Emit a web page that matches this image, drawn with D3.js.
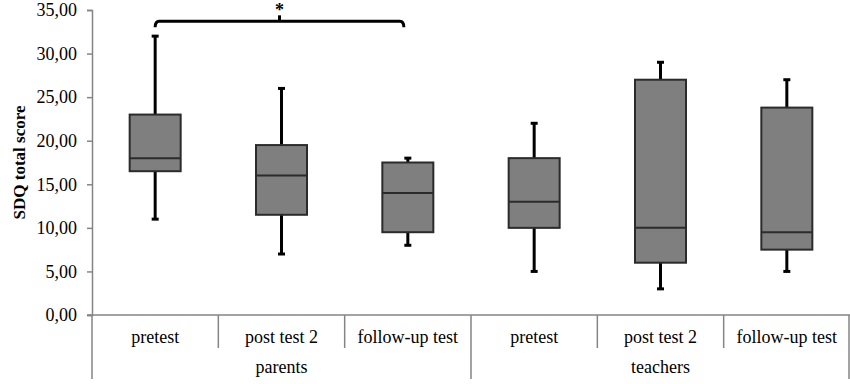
<!DOCTYPE html>
<html>
<head>
<meta charset="utf-8">
<script src="https://d3js.org/d3.v7.min.js"></script>
<style>
    body { margin: 0; background: #fff; }
    text { font-family: "Liberation Serif", "Times New Roman", serif; fill: #000; }
</style>
</head>
<body>
<div id="chart"></div>
<script>
    // data
    var groups = ["parents", "teachers"];
    var tests = ["pretest", "post test 2", "follow-up test"];
    var whiskerLow = [11, 7, 8, 5, 3, 5];
    var q1 = [16.5, 11.5, 9.5, 10, 6, 7.5];
    var median = [18, 16, 14, 13, 10, 9.5];
    var q3 = [23, 19.5, 17.5, 18, 27, 23.8];
    var whiskerHigh = [32, 26, 18, 22, 29, 27];
    var yTicks = [0, 5, 10, 15, 20, 25, 30, 35];
    var sigPair = [0, 2], sigLevel = 33.7, sigLabel = "*";

    var width = 850, height = 384;
    var margin = { top: 10, right: 0, bottom: 69, left: 92 };

    var svg = d3.select("#chart").append("svg")
        .attr("width", width)
        .attr("height", height);

    var keys = [];
    groups.forEach(function (g) { tests.forEach(function (t) { keys.push(g + "|" + t); }); });

    var x = d3.scaleBand().domain(keys).range([margin.left, width - margin.right]);
    var gx = d3.scaleBand().domain(groups).range([margin.left, width - margin.right]);
    var y = d3.scaleLinear().domain([0, 35]).range([height - margin.bottom, margin.top]);

    var axisColor = "#858585";
    var y0 = y(0);

    // y axis
    var yAxis = svg.append("g")
        .attr("transform", "translate(" + margin.left + ",0)")
        .call(d3.axisLeft(y).tickValues(yTicks).tickSize(5).tickPadding(10)
            .tickFormat(function (d) { return d3.format(".2f")(d).replace(".", ","); }));
    yAxis.attr("font-family", "Liberation Serif").attr("font-size", 18);
    yAxis.select(".domain").attr("stroke", axisColor).attr("stroke-width", 1.5);
    yAxis.selectAll(".tick line").attr("stroke", axisColor).attr("stroke-width", 1.5);
    yAxis.selectAll(".tick text").style("font-size", "18px").attr("fill", "#000");

    svg.append("text")
        .attr("transform", "translate(25," + y(17.5) + ") rotate(-90)")
        .attr("text-anchor", "middle")
        .style("font-size", "17px")
        .style("font-weight", "bold")
        .text("SDQ total score");

    // x axis: baseline and category dividers
    svg.append("line")
        .attr("x1", margin.left - 5).attr("x2", width)
        .attr("y1", y0).attr("y2", y0)
        .attr("stroke", axisColor).attr("stroke-width", 1.5);

    keys.forEach(function (k, i) {
        var xl = x(k);
        var outer = (i % tests.length === 0);
        svg.append("line")
            .attr("x1", xl).attr("x2", xl)
            .attr("y1", y0).attr("y2", outer ? y0 + 64 : y0 + 33)
            .attr("stroke", axisColor).attr("stroke-width", 1.5);
        svg.append("text")
            .attr("x", xl + x.bandwidth() / 2)
            .attr("y", y0 + 28)
            .attr("text-anchor", "middle")
            .style("font-size", "18px")
            .text(k.split("|")[1]);
    });
    svg.append("line")
        .attr("x1", width - 1).attr("x2", width - 1)
        .attr("y1", y0).attr("y2", y0 + 64)
        .attr("stroke", axisColor).attr("stroke-width", 1.5);

    groups.forEach(function (g) {
        svg.append("text")
            .attr("x", gx(g) + gx.bandwidth() / 2)
            .attr("y", y0 + 58)
            .attr("text-anchor", "middle")
            .style("font-size", "18px")
            .text(g);
    });

    // boxes
    var boxW = 51, capW = 5;
    keys.forEach(function (k, i) {
        var cx = x(k) + x.bandwidth() / 2;
        var g = svg.append("g");
        // whiskers
        g.append("line")
            .attr("x1", cx).attr("x2", cx)
            .attr("y1", y(whiskerHigh[i])).attr("y2", y(q3[i]))
            .attr("stroke", "#000").attr("stroke-width", 3);
        g.append("line")
            .attr("x1", cx).attr("x2", cx)
            .attr("y1", y(q1[i])).attr("y2", y(whiskerLow[i]))
            .attr("stroke", "#000").attr("stroke-width", 3);
        [whiskerHigh[i], whiskerLow[i]].forEach(function (v) {
            g.append("line")
                .attr("x1", cx - capW / 2 - 1).attr("x2", cx + capW / 2 + 1)
                .attr("y1", y(v)).attr("y2", y(v))
                .attr("stroke", "#000").attr("stroke-width", 3);
        });
        g.append("rect")
            .attr("x", cx - boxW / 2)
            .attr("y", y(q3[i]))
            .attr("width", boxW)
            .attr("height", y(q1[i]) - y(q3[i]))
            .attr("fill", "#7f7f7f")
            .attr("stroke", "#2b2b2b")
            .attr("stroke-width", 2);
        g.append("line")
            .attr("x1", cx - boxW / 2).attr("x2", cx + boxW / 2)
            .attr("y1", y(median[i])).attr("y2", y(median[i]))
            .attr("stroke", "#2b2b2b").attr("stroke-width", 2);
    });

    // significance bracket
    var bx1 = x(keys[sigPair[0]]) + x.bandwidth() / 2;
    var bx2 = x(keys[sigPair[1]]) + x.bandwidth() / 2 - 4;
    var by = y(sigLevel);
    svg.append("path")
        .attr("d", "M" + bx1 + "," + (by + 6) + "Q" + bx1 + "," + by + " " + (bx1 + 4) + "," + by +
            "H" + (bx2 - 4) + "Q" + bx2 + "," + by + " " + bx2 + "," + (by + 6))
        .attr("fill", "none").attr("stroke", "#000").attr("stroke-width", 3);
    var bmid = (bx1 + bx2) / 2;
    svg.append("line")
        .attr("x1", bmid).attr("x2", bmid)
        .attr("y1", by).attr("y2", by - 6)
        .attr("stroke", "#000").attr("stroke-width", 3);
    svg.append("text")
        .attr("x", bmid).attr("y", by - 5)
        .attr("text-anchor", "middle")
        .style("font-size", "18px")
        .style("font-weight", "bold")
        .text(sigLabel);
</script>
</body>
</html>
